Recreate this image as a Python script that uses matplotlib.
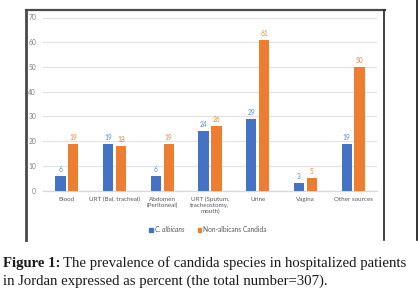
import matplotlib
matplotlib.use("Agg")
import matplotlib.pyplot as plt
from matplotlib.lines import Line2D
from matplotlib.patches import Patch
import numpy as np

CATEGORIES = ["Blood", "URT (Bal, tracheal)", "Abdomen\n(Peritoneal)",
              "URT (Sputum,\ntracheostomy,\nmouth)", "Urine", "Vagina", "Other sources"]
ALBICANS = [6, 19, 6, 24, 29, 3, 19]
NON_ALBICANS = [19, 18, 19, 26, 61, 5, 50]
SERIES_NAMES = ["C. albicans", "Non-albicans Candida"]
Y_TICKS = [0, 10, 20, 30, 40, 50, 60, 70]

BLUE = "#4472C4"
ORANGE = "#ED7D31"
W, H = 418, 305


def px(x, y):
    """pixel (from top-left) -> figure fraction"""
    return x / W, 1 - y / H


fig = plt.figure(figsize=(W / 100, H / 100), dpi=100)
fig.patch.set_facecolor("white")

l, t = px(43, 17.5)
r, b = px(377, 190.7)
ax = fig.add_axes([l, b, r - l, t - b])

x = np.arange(len(CATEGORIES))
bw = 0.215
off = 0.135
bars1 = ax.bar(x - off, ALBICANS, bw, color=BLUE, zorder=3)
bars2 = ax.bar(x + off, NON_ALBICANS, bw, color=ORANGE, zorder=3)

for bars, vals, col in [(bars1, ALBICANS, "#5B8BD6"), (bars2, NON_ALBICANS, "#E8893F")]:
    for bar, v in zip(bars, vals):
        ax.annotate(str(v), (bar.get_x() + bar.get_width() / 2, v),
                    xytext=(0, 2.2), textcoords="offset points",
                    ha="center", va="bottom", fontsize=4.8, color=col,
                    family="Lato")

ax.set_xlim(-0.5, len(CATEGORIES) - 0.5)
ax.set_ylim(0, 70)
ax.set_yticks(Y_TICKS)
ax.set_xticks(x)
ax.set_xticklabels(CATEGORIES, fontsize=4.5, color="#595959", family="Lato",
                   linespacing=1.2)
ax.tick_params(axis="y", labelsize=4.8, labelcolor="#7f7f7f", length=0, pad=5)
ax.tick_params(axis="x", length=0, pad=4.5)
for lab in ax.get_yticklabels():
    lab.set_family("Lato")
ax.grid(axis="y", color="#E3E3E3", linewidth=0.9, zorder=0)
for s in ["top", "right", "left"]:
    ax.spines[s].set_visible(False)
ax.spines["bottom"].set_color("#D9D9D9")
ax.spines["bottom"].set_linewidth(0.9)

handles = [Patch(color=BLUE), Patch(color=ORANGE)]
leg = fig.legend(handles, SERIES_NAMES, loc="center", bbox_to_anchor=px(208, 229.5),
                 ncol=2, frameon=False, handlelength=0.55,
                 handleheight=0.55, handletextpad=0.3, columnspacing=2.0,
                 prop={"family": "Lato", "size": 4.8})
for txt in leg.get_texts():
    txt.set_color("#595959")
leg.get_texts()[0].set_style("italic")

# frame around chart
border = "#4a4a4a"
fig.add_artist(Line2D([px(26, 0)[0], px(26, 0)[0]], [px(0, 9.5)[1], px(0, 240)[1]],
                      color=border, linewidth=2.0))
fig.add_artist(Line2D([px(26, 0)[0], px(384.5, 0)[0]], [px(0, 10)[1], px(0, 10)[1]],
                      color=border, linewidth=1.6))
fig.add_artist(Line2D([px(384, 0)[0], px(384, 0)[0]], [px(0, 9.5)[1], px(0, 240)[1]],
                      color="#222222", linewidth=1.2))
fig.add_artist(Line2D([px(417, 0)[0], px(417, 0)[0]], [px(0, 0)[1], px(0, 240)[1]],
                      color="#111111", linewidth=1.2))

# caption
fs = 10.6
cap_font = "Liberation Serif"
x0, y1 = px(3, 266.5)
t1 = fig.text(x0, y1, "Figure 1:", fontsize=fs, fontweight="bold", family=cap_font,
              va="baseline", color="#1a1a1a")
fig.canvas.draw()
ext = t1.get_window_extent()
fig.text((ext.x1 + 3) / W, y1,
         "The prevalence of candida species in hospitalized patients",
         fontsize=fs, family=cap_font, va="baseline", color="#1a1a1a")
fig.text(x0, px(0, 285)[1],
         "in Jordan expressed as percent (the total number=307).",
         fontsize=fs, family=cap_font, va="baseline", color="#1a1a1a")

fig.savefig("out.png", dpi=100)
